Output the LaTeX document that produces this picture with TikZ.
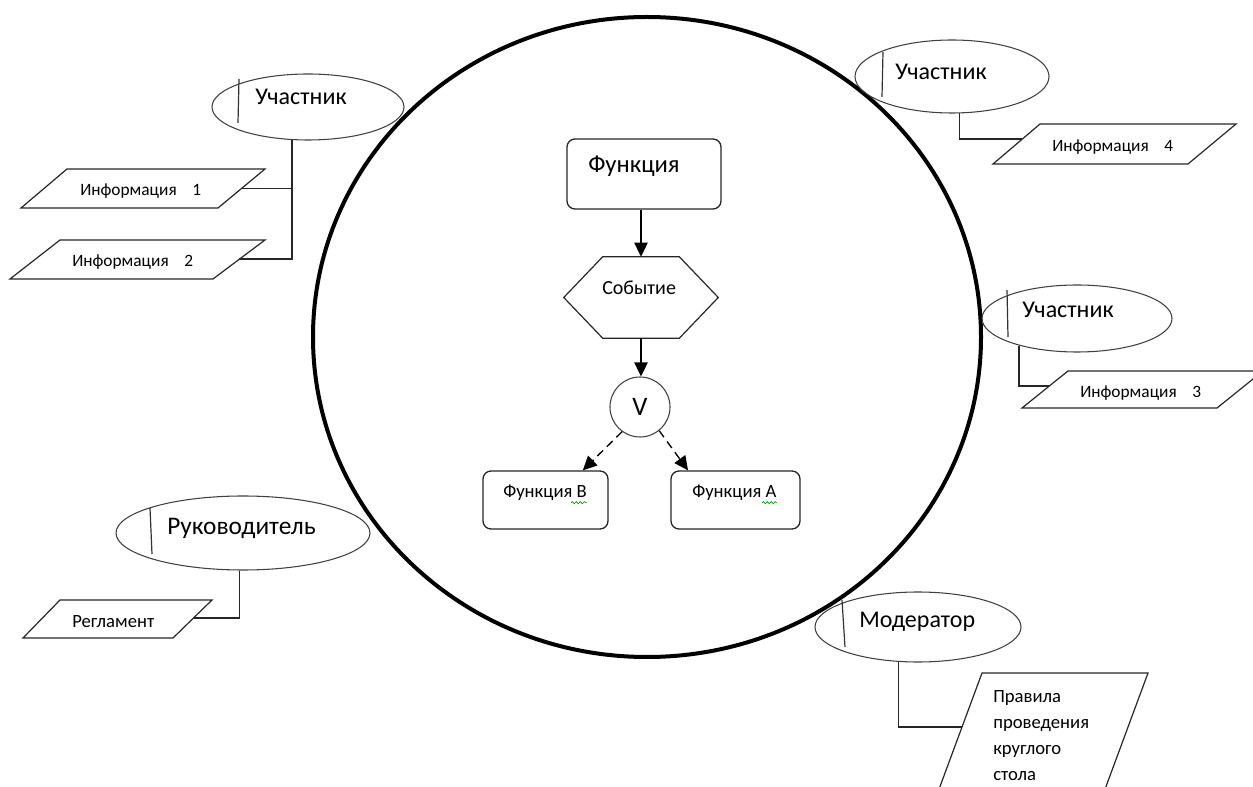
\documentclass[tikz,border=0pt]{standalone}
\usepackage{fontspec}
\setmainfont{Carlito}
\usetikzlibrary{shapes.geometric,arrows.meta,decorations.pathmorphing}
\begin{document}
\begin{tikzpicture}[x=0.75pt,y=-0.75pt,
  thinln/.style={draw=black!80, line width=0.9pt},
  actor/.style={ellipse, draw=black!75, line width=0.8pt, inner sep=0pt},
  fbox/.style={rectangle, rounded corners=6pt, draw=black!85, line width=1pt, inner sep=0pt},
  bigtxt/.style={font=\fontsize{18}{21}\selectfont},
  midtxt/.style={font=\fontsize{14}{17}\selectfont},
  smalltxt/.style={font=\fontsize{13}{16}\selectfont},
  txt/.style={anchor=base west, inner sep=0pt},
  arr/.style={-{Triangle[length=10.5pt,width=10pt]}, line width=1pt},
  link/.style={draw=black!85, line width=1pt},
  para/.style={draw=black!85, line width=0.9pt},
  squig/.style={draw=green!60!black, line width=0.5pt, decorate, decoration={snake, amplitude=0.8pt, segment length=3pt}}
]
\useasboundingbox (0,0) rectangle (1253,787);
\clip (0,0) rectangle (1253,787);

% big circle
\node[ellipse, draw=black, line width=3pt, inner sep=0pt, minimum width=501pt, minimum height=480pt] (circ) at (647,337) {};

% participant 1
\node[actor, minimum width=144pt, minimum height=49.5pt] (p1) at (308,107) {};
\draw[thinln] (239,79) -- (238,123);
\node[bigtxt, txt] (p1t) at (255,105) {Участник};
\draw[para] (67,169) -- (265,169) -- (218,208) -- (21,208) -- cycle;
\node[smalltxt, txt] (i1) at (80,196) {Информация~~~~1};
\coordinate (i1e) at (241.5,188.5);
\draw[para] (60,240) -- (265,240) -- (213,279) -- (10,279) -- cycle;
\node[smalltxt, txt] (i2) at (72,267) {Информация~~~~2};
\coordinate (i2e) at (239,259);
\draw[link] (p1.244) |- (i1e);
\draw[link] (p1.244 |- i1e) |- (i2e);

% participant 4
\node[actor, minimum width=145.5pt, minimum height=54.75pt] (p4) at (952,76.5) {};
\draw[thinln] (883,52) -- (882,97);
\node[bigtxt, txt] (p4t) at (895,80) {Участник};
\draw[para] (1040,124) -- (1236,124) -- (1188,164) -- (993,164) -- cycle;
\node[smalltxt, txt] (i4) at (1052,152) {Информация~~~~4};
\coordinate (i4w) at (1022,139);
\draw[link] (p4.281) |- (i4w);

% participant 3
\node[actor, minimum width=142.5pt, minimum height=50.25pt] (p3) at (1077,318.5) {};
\draw[thinln] (1007,290) -- (1008,337);
\node[bigtxt, txt] (p3t) at (1022,318) {Участник};
\draw[para] (1068,371) -- (1263,371) -- (1217,408) -- (1022,408) -- cycle;
\node[smalltxt, txt] (i3) at (1080,398) {Информация~~~~3};
\coordinate (i3w) at (1049,386);
\draw[link] (p3.205) |- (i3w);

% leader
\node[actor, minimum width=190.5pt, minimum height=55.5pt] (rk) at (243,533) {};
\draw[thinln] (150,508) -- (152,554);
\node[txt, font=\fontsize{19}{22}\selectfont] (rkt) at (167,535) {Руководитель};
\draw[para] (60,600) -- (212,600) -- (173,638) -- (23,638) -- cycle;
\node[midtxt, txt] (reg) at (72,627) {Регламент};
\coordinate (rege) at (194,618);
\draw[link] (rk.265) |- (rege);

% moderator
\node[actor, minimum width=154.5pt, minimum height=52.5pt] (md) at (918,627) {};
\draw[thinln] (842,600) -- (845,647);
\node[bigtxt, txt] (mdt) at (859,627) {Модератор};
\draw[para] (982,673) -- (1148,673) -- (1101,800) -- (935,800) -- cycle;
\node[midtxt, txt] (r1) at (993,702) {Правила};
\node[midtxt, txt] (r2) at (993,728) {проведения};
\node[midtxt, txt] (r3) at (993,754) {круглого};
\node[midtxt, txt] (r4) at (993,780) {стола};
\coordinate (prw) at (962,727);
\draw[link] (md.241) |- (prw);

% center flow
\node[fbox, minimum width=115.5pt, minimum height=52.5pt] (f) at (644,174) {};
\node[txt, font=\fontsize{18.5}{22}\selectfont] (ft) at (588,173) {Функция};
\node[minimum width=115.5pt, minimum height=60.75pt, inner sep=0pt] (ev) at (641,297.5) {};
\draw[para] (ev.west) -- ([xshift=29.25pt]ev.north west) -- ([xshift=-29.25pt]ev.north east) -- (ev.east) -- ([xshift=-29.25pt]ev.south east) -- ([xshift=29.25pt]ev.south west) -- cycle;
\node[txt, font=\fontsize{15}{18}\selectfont] (evt) at (602,295) {Событие};
\node[circle, draw=black!75, line width=0.8pt, minimum size=45pt, inner sep=0pt, font=\fontsize{20}{24}\selectfont] (v) at (640,407) {V};
\node[fbox, minimum width=93.75pt, minimum height=43.5pt] (fb) at (545.5,500) {};
\node[midtxt, txt] (fbt) at (503,498) {Функция В};
\node[fbox, minimum width=96.75pt, minimum height=43.5pt] (fa) at (735.5,500) {};
\node[midtxt, txt] (fat) at (692,498) {Функция А};
\draw[squig] ([xshift=-12pt,yshift=-3.5pt]fbt.base east) -- ([yshift=-3.5pt]fbt.base east);
\draw[squig] ([xshift=-11pt,yshift=-3.5pt]fat.base east) -- ([yshift=-3.5pt]fat.base east);

\draw[arr] (f.south -| ev.north) -- (ev.north);
\draw[arr] (ev.south) -- (ev.south |- v.north);
\draw[arr, dash pattern=on 6pt off 4pt] (v.234) -- ([xshift=28pt]fb.north);
\draw[arr, dash pattern=on 6pt off 4pt] (v.309) -- ([xshift=-35.6pt]fa.north);
\end{tikzpicture}
\end{document}
